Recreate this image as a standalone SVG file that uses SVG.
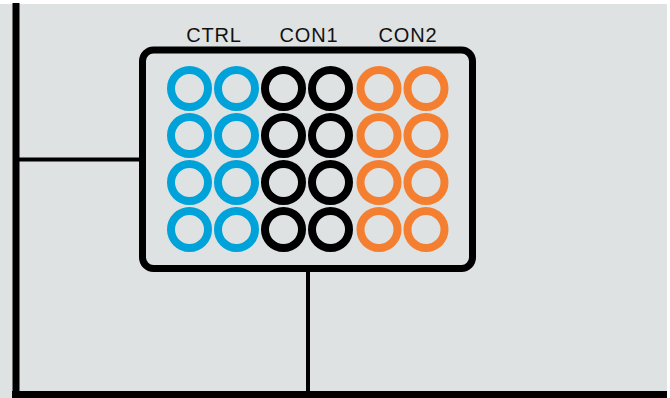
<svg xmlns="http://www.w3.org/2000/svg" width="670" height="398" viewBox="0 0 670 398">
<defs>
<style>
.bg{fill:#dfe2e3}
.ln{stroke:#000;fill:none}
.well{fill:none;stroke-width:8}
.ctrl{stroke:#00a3d9}
.con1{stroke:#000}
.con2{stroke:#f47f31}
.lbl{font-family:"Liberation Sans",Arial,sans-serif;font-size:20px;fill:#111;text-anchor:middle;letter-spacing:0.8px}
</style>
</defs>
<rect x="0" y="0" width="670" height="398" fill="#ffffff"/>
<rect class="bg" x="0" y="4" width="667" height="394"/>
<g id="connectors">
<line class="ln" x1="16" y1="3" x2="16" y2="398" stroke-width="7"/>
<line class="ln" x1="12" y1="394.5" x2="667" y2="394.5" stroke-width="7"/>
<line class="ln" x1="19" y1="159.5" x2="139" y2="159.5" stroke-width="4"/>
<line class="ln" x1="308" y1="271" x2="308" y2="392" stroke-width="4"/>
</g>
<g id="plate">
<rect class="ln" x="142.5" y="50" width="330" height="218.5" rx="11" stroke-width="7"/>
</g>
<g id="labels">
<text class="lbl" x="214" y="42">CTRL</text>
<text class="lbl" x="309" y="42">CON1</text>
<text class="lbl" x="408" y="42">CON2</text>
</g>
<g id="wells-ctrl" class="well ctrl">
<circle cx="189.5" cy="88.5" r="18.5"/><circle cx="236.5" cy="88.5" r="18.5"/>
<circle cx="189.5" cy="135.5" r="18.5"/><circle cx="236.5" cy="135.5" r="18.5"/>
<circle cx="189.5" cy="182.5" r="18.5"/><circle cx="236.5" cy="182.5" r="18.5"/>
<circle cx="189.5" cy="229.5" r="18.5"/><circle cx="236.5" cy="229.5" r="18.5"/>
</g>
<g id="wells-con1" class="well con1">
<circle cx="283.5" cy="88.5" r="18.5"/><circle cx="330.5" cy="88.5" r="18.5"/>
<circle cx="283.5" cy="135.5" r="18.5"/><circle cx="330.5" cy="135.5" r="18.5"/>
<circle cx="283.5" cy="182.5" r="18.5"/><circle cx="330.5" cy="182.5" r="18.5"/>
<circle cx="283.5" cy="229.5" r="18.5"/><circle cx="330.5" cy="229.5" r="18.5"/>
</g>
<g id="wells-con2" class="well con2">
<circle cx="379" cy="88.5" r="18.5"/><circle cx="426" cy="88.5" r="18.5"/>
<circle cx="379" cy="135.5" r="18.5"/><circle cx="426" cy="135.5" r="18.5"/>
<circle cx="379" cy="182.5" r="18.5"/><circle cx="426" cy="182.5" r="18.5"/>
<circle cx="379" cy="229.5" r="18.5"/><circle cx="426" cy="229.5" r="18.5"/>
</g>
</svg>
